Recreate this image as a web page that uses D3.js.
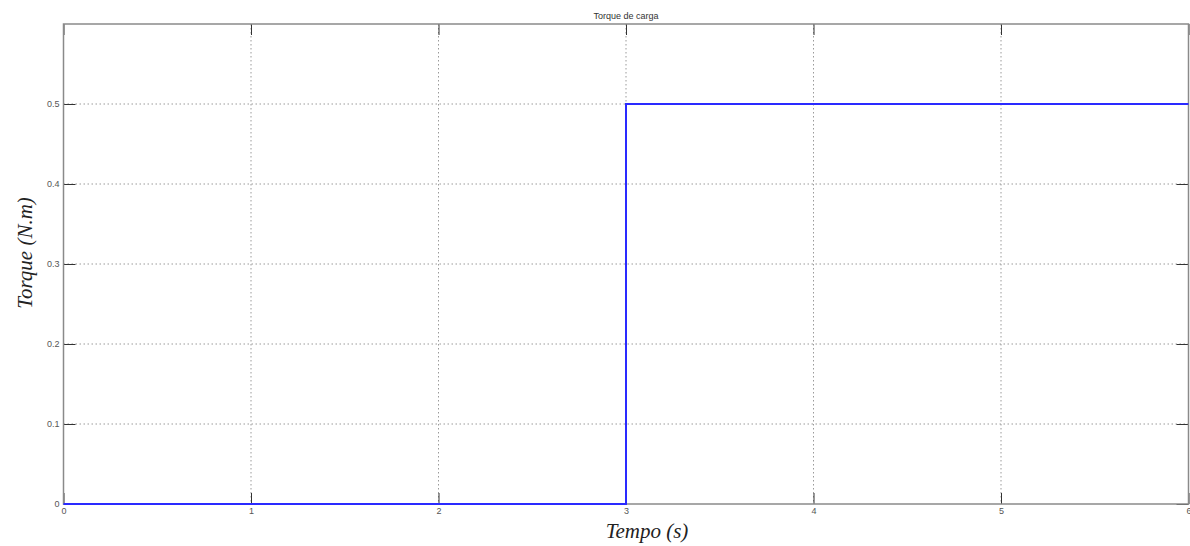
<!DOCTYPE html>
<html>
<head>
<meta charset="utf-8">
<script src="https://cdn.jsdelivr.net/npm/d3@7"></script>
<style>
body { margin: 0; background: #fff; }
svg { display: block; }
</style>
</head>
<body>
<script>
// data
var tempo = [0, 3, 3, 6];
var torque = [0, 0, 0.5, 0.5];
var xTicks = [0, 1, 2, 3, 4, 5, 6];
var yTicks = [0, 0.1, 0.2, 0.3, 0.4, 0.5];

var width = 1190, height = 546;
var plotLeft = 63.5, plotRight = 1188.5, plotTop = 24, plotBottom = 504;

var svg = d3.select("body").append("svg")
    .attr("width", width)
    .attr("height", height);

var xScale = d3.scaleLinear().domain([0, 6]).range([plotLeft, plotRight]),
    yScale = d3.scaleLinear().domain([0, 0.6]).range([plotBottom, plotTop]);

// grid
svg.append("g")
    .selectAll("line")
    .data(xTicks.slice(1, -1))
    .enter().append("line")
    .attr("x1", function(d) { return xScale(d); })
    .attr("x2", function(d) { return xScale(d); })
    .attr("y1", plotTop)
    .attr("y2", plotBottom)
    .attr("stroke", "#9a9a9a")
    .attr("stroke-width", 1)
    .attr("stroke-dasharray", "1.5,2.5");

svg.append("g")
    .selectAll("line")
    .data(yTicks.slice(1))
    .enter().append("line")
    .attr("x1", plotLeft)
    .attr("x2", plotRight)
    .attr("y1", function(d) { return yScale(d); })
    .attr("y2", function(d) { return yScale(d); })
    .attr("stroke", "#9a9a9a")
    .attr("stroke-width", 1)
    .attr("stroke-dasharray", "1.5,2.5");

// axes (ticks inside, like matlab)
var xAxis = svg.append("g")
    .attr("transform", "translate(0," + plotBottom + ")")
    .call(d3.axisBottom(xScale).tickValues(xTicks).tickSize(-11).tickPadding(4)
        .tickFormat(d3.format("d")));
var xAxisTop = svg.append("g")
    .attr("transform", "translate(0," + plotTop + ")")
    .call(d3.axisTop(xScale).tickValues(xTicks).tickSize(-11).tickFormat(""));
var yAxis = svg.append("g")
    .attr("transform", "translate(" + plotLeft + ",0)")
    .call(d3.axisLeft(yScale).tickValues(yTicks).tickSize(-12).tickPadding(4)
        .tickFormat(function(d) { return d === 0 ? "0" : d3.format(".1f")(d); }));
var yAxisRight = svg.append("g")
    .attr("transform", "translate(" + plotRight + ",0)")
    .call(d3.axisRight(yScale).tickValues(yTicks).tickSize(-12).tickFormat(""));

[xAxis, xAxisTop, yAxis, yAxisRight].forEach(function(a) {
    a.select(".domain").remove();
    a.selectAll(".tick line").attr("stroke", "#333").attr("stroke-width", 1);
    a.selectAll("text")
        .attr("fill", "#555")
        .style("font-family", "Liberation Sans, Arial, sans-serif")
        .style("font-size", "9px");
});

// box
svg.append("rect")
    .attr("x", plotLeft)
    .attr("y", plotTop)
    .attr("width", plotRight - plotLeft)
    .attr("height", plotBottom - plotTop)
    .attr("fill", "none")
    .attr("stroke", "#8a8a8a")
    .attr("stroke-width", 1.5);

// the step line
var line = d3.line()
    .x(function(d, i) { return xScale(tempo[i]); })
    .y(function(d) { return yScale(d); });

svg.append("path")
    .datum(torque)
    .attr("d", line)
    .attr("fill", "none")
    .attr("stroke", "#2a2aff")
    .attr("stroke-width", 2);

// title
svg.append("text")
    .attr("x", (plotLeft + plotRight) / 2)
    .attr("y", 19)
    .attr("text-anchor", "middle")
    .style("font-family", "Liberation Sans, Arial, sans-serif")
    .style("font-size", "9px")
    .attr("fill", "#333")
    .text("Torque de carga");

// axis labels
svg.append("text")
    .attr("x", 647)
    .attr("y", 538)
    .attr("text-anchor", "middle")
    .style("font-family", "Liberation Serif, serif")
    .style("font-style", "italic")
    .style("font-size", "21px")
    .attr("fill", "#222")
    .text("Tempo (s)");

svg.append("text")
    .attr("transform", "translate(32,253) rotate(-90)")
    .attr("text-anchor", "middle")
    .style("font-family", "Liberation Serif, serif")
    .style("font-style", "italic")
    .style("font-size", "21px")
    .attr("fill", "#222")
    .text("Torque (N.m)");
</script>
</body>
</html>
